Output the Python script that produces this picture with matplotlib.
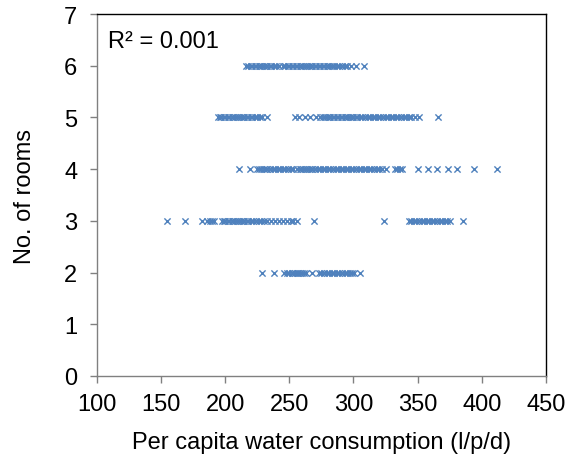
import matplotlib
matplotlib.use("Agg")
import matplotlib.pyplot as plt
import numpy as np

plt.rcParams['font.family'] = ['Liberation Sans', 'DejaVu Sans']

# Per capita consumption values for each room count
rooms6_x = [216, 218, 220, 221, 223, 224, 226, 227, 229, 230, 232, 233, 235, 236, 238, 240, 242, 245,
            247, 249, 250, 252, 253, 255, 256, 258, 259, 261, 262, 264, 265, 267, 268, 270, 271, 273,
            274, 276, 277, 279, 280, 282, 283, 285, 287, 289, 291, 293, 295, 298, 302, 308.5]
rooms5_x = [194.5, 196, 197, 199, 200, 202, 203, 205, 206, 208, 209, 211, 212, 214, 215, 217, 218, 220,
            221, 223, 225, 227, 229, 232.6, 254.7, 257.5, 262, 266, 270.5, 274, 276, 278, 279, 281, 282,
            284, 285, 287, 288, 290, 291, 293, 294, 296, 297, 299, 300, 302, 303, 305, 307, 309, 311, 313,
            315, 317, 319, 321, 323, 325, 327, 329, 331, 333, 335, 337, 339, 341, 343, 345, 348, 351, 365.5]
rooms4_x = [210.6, 219.7, 224.6, 226, 228, 230, 232, 233, 235, 237, 239, 241, 243, 245, 247, 249, 251, 253,
            256, 258, 259, 261, 262, 264, 265, 267, 268, 270, 272, 274, 276, 278, 280, 282, 284, 286, 288,
            290, 292, 294, 296, 298, 300, 302, 304, 306, 308, 310, 312, 314, 316, 318, 320, 322, 325,
            332, 334, 336, 338, 350.6, 357.8, 365, 373.6, 380.7, 393.6, 412]
rooms3_x = [154.4, 168.7, 181.6, 186, 188, 190, 191.7, 197.4, 199, 200, 202, 203, 205, 206, 208, 209, 211,
            212, 214, 215, 217, 218, 220, 222, 224, 226, 228, 230, 233, 236, 239, 242, 245, 248, 251, 253,
            256, 269.6, 323.4, 343.5, 345, 347, 349, 351, 353, 355, 357, 359, 361, 363, 365, 367, 369, 371,
            373, 375, 385.6]
rooms2_x = [229, 237.8, 246, 248, 250, 251.8, 253, 254.5, 256, 257, 258.5, 260, 261.5, 263.3, 267.6, 273,
            275, 277, 279, 281, 283, 285, 287, 289, 291, 293, 295, 297, 299, 300.5, 304.8]
room_counts = [6, 5, 4, 3, 2]
r2_text = "R² = 0.001"

groups = [rooms6_x, rooms5_x, rooms4_x, rooms3_x, rooms2_x]
xs = np.concatenate([np.array(g, dtype=float) for g in groups])
ys = np.concatenate([np.full(len(g), r) for g, r in zip(groups, room_counts)])

fig = plt.figure(figsize=(5.76, 4.64), dpi=100)
ax = fig.add_axes([0.168, 0.1875, 0.78, 0.78])
ax.scatter(xs, ys, marker='x', s=20, linewidths=1.0, color='#4f81bd', zorder=3)

ax.set_xlim(100, 450)
ax.set_ylim(0, 7)
ax.set_xticks(np.arange(100, 451, 50))
ax.set_yticks(np.arange(0, 8, 1))
ax.tick_params(direction='out', length=5, width=1, labelsize=17, pad=7, color='#808080')
ax.tick_params(axis='y', pad=9)
for s in ax.spines.values():
    s.set_linewidth(1.0)
    s.set_color('black')
ax.spines['left'].set_color('#808080')
ax.spines['bottom'].set_color('#808080')

ax.set_xlabel("Per capita water consumption (l/p/d)", fontsize=17, labelpad=12)
ax.set_ylabel("No. of rooms", fontsize=17, labelpad=20)
ax.text(0.025, 0.955, r2_text, transform=ax.transAxes, fontsize=17, va='top', ha='left')

fig.savefig("out.png", dpi=100)
